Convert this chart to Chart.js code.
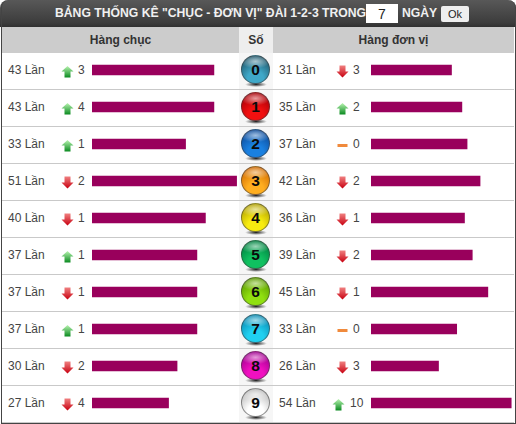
<!DOCTYPE html>
<html><head><meta charset="utf-8">
<script src="https://cdn.jsdelivr.net/npm/chart.js@4"></script>
<style>
html,body{margin:0;padding:0;background:#fff;overflow:hidden}
body{width:516px;height:424px;position:relative;font-family:"Liberation Sans",Arial,sans-serif;color:#333}
#frame{position:absolute;left:1px;top:0;width:513px;height:423px;border:1px solid #444;border-top:0;box-sizing:content-box;border-radius:8px 8px 0 0}
#title{position:absolute;left:0;top:0;width:516px;height:27px;background:linear-gradient(#585858,#3c3c3c 85%,#303030);border-radius:8px 8px 0 0;color:#f0f0f0;font-weight:bold;font-size:12.2px}
#title span{position:absolute;top:6px;white-space:nowrap}
#inp{position:absolute;left:366px;top:4px;width:32px;height:19px;background:#fff;color:#222;font-weight:normal;font-size:14px;text-align:center;line-height:21px}
#ok{position:absolute;left:441px;top:6px;width:28px;height:16px;background:#eee;border-radius:2px;color:#222;font-weight:normal;font-size:11px;text-align:center;line-height:17px}
.hd{position:absolute;top:27px;height:26px;background:#ccc;font-weight:bold;font-size:12px;line-height:26px;text-align:center;color:#333}
#col{position:absolute;left:239px;top:53px;width:34px;height:370px;background:#f6f6f6}
.line{position:absolute;left:2px;width:512px;height:1px;background:#c9c9c9}
.cnt{position:absolute;font-size:12px;white-space:nowrap;line-height:14px;color:#444}
.arrow{position:absolute;width:13px;height:13px}
.arrow svg{display:block;width:13px;height:13px}
.shadow{position:absolute;left:245px;width:22px;height:5px;border-radius:50%;background:radial-gradient(closest-side,#222,rgba(40,40,40,0))}
.ball{position:absolute;left:241px;width:29px;height:29px;border-radius:50%;font-weight:bold;font-size:15.5px;line-height:28px;text-align:center;color:#0a0a0a;box-sizing:border-box;border:1px solid rgba(60,60,60,.55)}
canvas{position:absolute;display:block}
</style></head>
<body>
<div id="col"></div>
<div id="rows"></div>
<div id="title"><span style="left:55px">BẢNG THỐNG KÊ "CHỤC - ĐƠN VỊ" ĐÀI 1-2-3 TRONG</span><div id="inp">7</div><span style="left:402px">NGÀY</span><div id="ok">Ok</div></div>
<div class="hd" style="left:2px;width:237px">Hàng chục</div>
<div class="hd" style="left:239px;width:34px;background:#eee">Số</div>
<div class="hd" style="left:273px;width:241px">Hàng đơn vị</div>
<div id="frame"></div>
<div style="position:absolute;left:92px;top:51px;width:148px;height:371px"><canvas id="c1"></canvas></div>
<div style="position:absolute;left:371px;top:51px;width:141px;height:371px"><canvas id="c2"></canvas></div>
<script>
const digits=["0","1","2","3","4","5","6","7","8","9"];
const tensValues=[43,43,33,51,40,37,37,37,30,27];
const unitsValues=[31,35,37,42,36,39,45,33,26,54];
const tensDelta=[3,4,1,2,1,1,1,1,2,4];
const tensDir=["up","up","up","down","down","up","down","up","down","down"];
const unitsDelta=[3,2,0,2,1,2,1,0,3,10];
const unitsDir=["down","up","flat","down","down","down","down","flat","down","up"];
const ballDark=["#1f5568","#a80008","#0d4a98","#d06a00","#b0a000","#008040","#5a9800","#0a88b0","#a00090","#b8b8b8"];
const ballLight=["#3fa8c8","#f01010","#1a80e0","#ffae20","#f8ec10","#10c060","#90e010","#20d0f0","#f010c0","#ffffff"];
const barColor="#99005c";
const unitLabel=" Lần";

function arrow(dir){
  if(dir==="up")return '<svg viewBox="0 0 13 13"><defs><linearGradient id="gu" x1="0" y1="0" x2="0" y2="1"><stop offset="0" stop-color="#b8f4b0"/><stop offset="1" stop-color="#0a8a20"/></linearGradient></defs><path d="M6.5 1L12.5 6.5H9.5V12.5H3.5V6.5H0.5Z" fill="url(#gu)"/></svg>';
  if(dir==="down")return '<svg viewBox="0 0 13 13"><defs><linearGradient id="gd" x1="0" y1="0" x2="0" y2="1"><stop offset="0" stop-color="#f08080"/><stop offset="1" stop-color="#c80010"/></linearGradient></defs><path d="M6.5 12.5L0.5 6.5H3.5V0.5H9.5V6.5H12.5Z" fill="url(#gd)"/></svg>';
  return '<svg viewBox="0 0 13 13"><rect x="1.5" y="5" width="10" height="3" fill="#f08a3c"/></svg>';
}
let html="";
digits.forEach((d,i)=>{
  const cy=70+37*i;
  html+=`<div class="line" style="top:${cy+19}px"></div>`;
  html+=`<div class="cnt" style="left:8px;top:${cy-7}px">${tensValues[i]}${unitLabel}</div>`;
  html+=`<div class="arrow" style="left:61px;top:${cy-5}px">${arrow(tensDir[i])}</div>`;
  html+=`<div class="cnt" style="left:78px;top:${cy-7}px">${tensDelta[i]}</div>`;
  html+=`<div class="shadow" style="top:${cy+12}px"></div>`;
  html+=`<div class="ball" style="top:${cy-15}px;background:radial-gradient(ellipse 55% 26% at 50% 20%,rgba(255,255,255,.6),rgba(255,255,255,0) 100%),radial-gradient(circle at 50% 85%,${ballLight[i]} 0%,${ballLight[i]} 30%,${ballDark[i]} 85%)">${d}</div>`;
  html+=`<div class="cnt" style="left:279px;top:${cy-7}px">${unitsValues[i]}${unitLabel}</div>`;
  const big=unitsDelta[i]>=10;
  html+=`<div class="arrow" style="left:${big?332:336}px;top:${cy-5}px">${arrow(unitsDir[i])}</div>`;
  html+=`<div class="cnt" style="left:${big?350:353}px;top:${cy-7}px">${unitsDelta[i]}</div>`;
});
document.getElementById("rows").innerHTML=html;

function bars(id,values,max){
  new Chart(document.getElementById(id),{
    type:"bar",
    data:{labels:digits,datasets:[{data:values,backgroundColor:barColor,barThickness:10,borderWidth:0}]},
    options:{indexAxis:"y",responsive:true,maintainAspectRatio:false,animation:false,
      layout:{padding:{top:0.5,bottom:0.5,left:0,right:0}},
      plugins:{legend:{display:false},tooltip:{enabled:false}},
      scales:{x:{display:false,min:0,max:max},y:{display:false}}}
  });
}
bars("c1",tensValues,52.2);
bars("c2",unitsValues,54.3);
</script>
</body></html>
